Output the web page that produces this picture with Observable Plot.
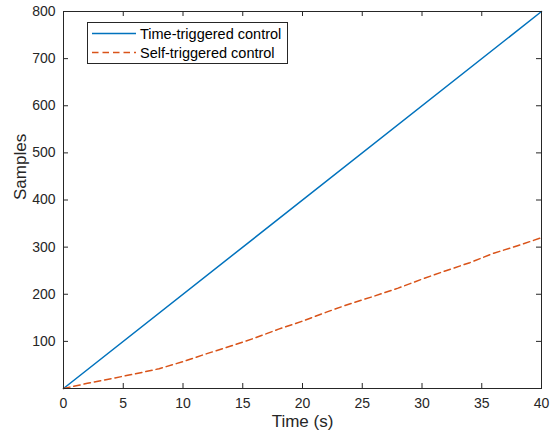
<!DOCTYPE html>
<html>
<head>
<meta charset="utf-8">
<script src="https://cdn.jsdelivr.net/npm/d3@7"></script>
<script src="https://cdn.jsdelivr.net/npm/@observablehq/plot@0.6"></script>
<style>
  html, body { margin: 0; padding: 0; background: #fff; }
  #wrap { position: relative; width: 554px; height: 441px; font-family: "Liberation Sans", Arial, sans-serif; }
  #legend { position: absolute; left: 87px; top: 22px; }
</style>
</head>
<body>
<div id="wrap"></div>
<script>
const seriesNames = ["Time-triggered control", "Self-triggered control"];
const seriesColors = ["#0072BD", "#D95319"];
const timeTT = [0, 40];
const samplesTT = [0, 800];
const timeST = [0, 2, 4, 6, 8, 10, 12, 14, 16, 18, 20, 22, 24, 26, 28, 30, 32, 34, 36, 38, 40];
const samplesST = [0, 11, 21, 31, 42, 57, 74, 90, 107, 126, 143, 162, 180, 196, 213, 232, 250, 267, 287, 303, 320];
const xTicks = [0, 5, 10, 15, 20, 25, 30, 35, 40];
const yTicks = [100, 200, 300, 400, 500, 600, 700, 800];
const xLabel = "Time (s)";
const yLabel = "Samples";

const tt = timeTT.map((t, i) => ({t, v: samplesTT[i]}));
const st = timeST.map((t, i) => ({t, v: samplesST[i]}));

const W = 554, H = 441, mL = 63, mR = 13, mT = 11, mB = 53;
const pw = W - mL - mR, ph = H - mT - mB;
const axisColor = "#262626";
const tk = 5;

const chart = Plot.plot({
  width: W, height: H,
  marginLeft: mL, marginRight: mR, marginTop: mT, marginBottom: mB,
  style: {fontFamily: "'Liberation Sans', Arial, sans-serif", fontSize: "14px", color: axisColor, background: "#fff"},
  x: {domain: [0, 40]},
  y: {domain: [0, 800]},
  marks: [
    Plot.axisX({ticks: xTicks, tickSize: 0, tickPadding: 10, label: null, fontSize: 14}),
    Plot.axisY({ticks: yTicks, tickSize: 0, tickPadding: 8, label: null, fontSize: 14}),
    Plot.tickX(xTicks, {x: d => d, insetTop: ph - tk, stroke: axisColor}),
    Plot.tickX(xTicks, {x: d => d, insetBottom: ph - tk, stroke: axisColor}),
    Plot.tickY(yTicks, {y: d => d, insetRight: pw - tk, stroke: axisColor}),
    Plot.tickY(yTicks, {y: d => d, insetLeft: pw - tk, stroke: axisColor}),
    Plot.line(tt, {x: "t", y: "v", stroke: seriesColors[0], strokeWidth: 1.5}),
    Plot.line(st, {x: "t", y: "v", stroke: seriesColors[1], strokeWidth: 1.5, strokeDasharray: "6.5,4"}),
    Plot.frame({stroke: axisColor, strokeWidth: 1}),
    Plot.text([xLabel], {frameAnchor: "bottom", dy: 38, fontSize: 17, fill: axisColor}),
    Plot.text([yLabel], {frameAnchor: "left", dx: -43, rotate: -90, fontSize: 17, fill: axisColor})
  ]
});
const wrap = document.getElementById("wrap");
wrap.appendChild(chart);

// legend
const ns = "http://www.w3.org/2000/svg";
const lw = 201, lh = 42;
const leg = document.createElementNS(ns, "svg");
leg.setAttribute("id", "legend");
leg.setAttribute("width", lw);
leg.setAttribute("height", lh);
const box = document.createElementNS(ns, "rect");
box.setAttribute("x", 0.5); box.setAttribute("y", 0.5);
box.setAttribute("width", lw - 1); box.setAttribute("height", lh - 1);
box.setAttribute("fill", "#fff"); box.setAttribute("stroke", axisColor); box.setAttribute("stroke-width", 1);
leg.appendChild(box);
seriesNames.forEach((name, i) => {
  const y = 11.5 + i * 19;
  const ln = document.createElementNS(ns, "line");
  ln.setAttribute("x1", 5); ln.setAttribute("x2", 49);
  ln.setAttribute("y1", y); ln.setAttribute("y2", y);
  ln.setAttribute("stroke", seriesColors[i]);
  ln.setAttribute("stroke-width", 1.5);
  if (i === 1) ln.setAttribute("stroke-dasharray", "6.5,4");
  leg.appendChild(ln);
  const tx = document.createElementNS(ns, "text");
  tx.setAttribute("x", 53); tx.setAttribute("y", y);
  tx.setAttribute("dy", "0.35em");
  tx.setAttribute("font-size", "14.5px");
  tx.setAttribute("font-family", "'Liberation Sans', Arial, sans-serif");
  tx.setAttribute("fill", "#000");
  tx.textContent = name;
  leg.appendChild(tx);
});
wrap.appendChild(leg);
</script>
</body>
</html>
